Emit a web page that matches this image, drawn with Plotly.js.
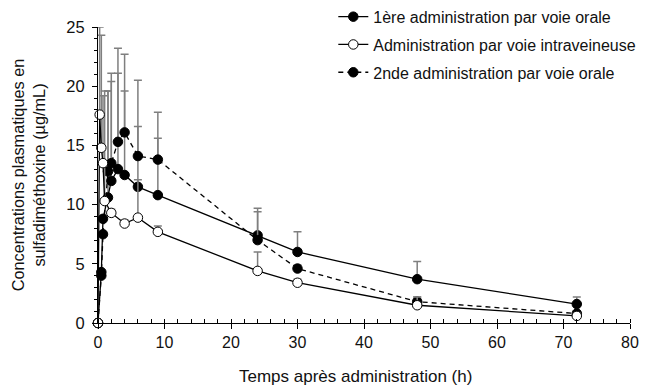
<!DOCTYPE html>
<html>
<head>
<meta charset="utf-8">
<script src="https://cdn.plot.ly/plotly-3.0.1.min.js"></script>
<style>html,body{margin:0;padding:0;background:#fff;}#chart{width:646px;height:385px;}</style>
</head>
<body>
<div id="chart"></div>
<script>
// 1ère administration par voie orale
const tOral1 = [0, 0.5, 0.75, 1.5, 2, 3, 4, 6, 9, 24, 30, 48, 72];
const cOral1 = [0, 4.3, 8.8, 10.6, 12.0, 13.0, 12.5, 11.5, 10.8, 7.4, 6.0, 3.7, 1.6];
const sdOral1 = [0, 0, 0, 9.0, 8.4, 8.1, 7.1, 5.1, 4.8, 2.3, 1.7, 1.5, 0.6];

// Administration par voie intraveineuse
const tIV = [0, 0.25, 0.5, 0.75, 1, 2, 4, 6, 9, 24, 30, 48, 72];
const cIV = [0, 17.6, 14.8, 13.5, 10.3, 9.3, 8.4, 8.9, 7.7, 4.4, 3.4, 1.5, 0.6];
const sdIV = [0, 7.4, 9.5, 5.7, 9.3, 0.3, 0.3, 3.2, 0.5, 1.6, 0.3, 0.7, 0.2];

// 2nde administration par voie orale
const tOral2 = [0, 0.5, 0.75, 1.5, 2, 3, 4, 6, 9, 24, 30, 48, 72];
const cOral2 = [0, 4.0, 7.5, 12.8, 13.5, 15.3, 16.1, 14.1, 13.8, 7.0, 4.6, 1.8, 0.8];
const sdOral2 = [0, 0, 0, 6.8, 7.6, 7.9, 6.6, 6.4, 4.0, 2.4, 0.3, 0.4, 0.2];

const names = ["1ère administration par voie orale", "Administration par voie intraveineuse", "2nde administration par voie orale"];
const xTitle = "Temps après administration (h)";
const yTitle = "Concentrations plasmatiques en<br>sulfadiméthoxine (µg/mL)";

const errStyle = (arr) => ({type: 'data', array: arr, symmetric: false, arrayminus: arr.map(() => 0), color: '#7f7f7f', thickness: 1.5, width: 4});

const traces = [
  {x: tOral1, y: cOral1, name: names[0], mode: 'lines+markers', legendgroup: 'a', legendrank: 1,
   line: {color: '#000', width: 1.3}, marker: {color: '#000', size: 9.5, line: {color: '#000', width: 1}},
   error_y: errStyle(sdOral1), cliponaxis: false},
  {x: tOral2, y: cOral2, name: names[2], mode: 'lines+markers', legendgroup: 'c', legendrank: 3,
   line: {color: '#000', width: 1.3, dash: '5px,4px'}, marker: {color: '#000', size: 9.5, line: {color: '#000', width: 1}},
   error_y: errStyle(sdOral2), cliponaxis: false},
  {x: tIV, y: cIV, name: names[1], mode: 'lines+markers', legendgroup: 'b', legendrank: 2,
   line: {color: '#000', width: 1.3}, marker: {color: '#fff', size: 9.5, line: {color: '#000', width: 1}},
   error_y: errStyle(sdIV), cliponaxis: false}
];

const layout = {
  width: 646, height: 385,
  margin: {l: 97.5, r: 16, t: 27, b: 62, pad: 0, autoexpand: false},
  paper_bgcolor: '#fff', plot_bgcolor: '#fff',
  font: {family: 'Liberation Sans, Arial, sans-serif', size: 15, color: '#111'},
  showlegend: true,
  legend: {x: 0.4423, xanchor: 'left', y: 1.092, yanchor: 'top', bgcolor: 'rgba(0,0,0,0)',
           traceorder: 'grouped', tracegroupgap: 4, font: {size: 16, color: '#111'}},
  xaxis: {range: [0, 80], dtick: 10, tick0: 0, showgrid: false, zeroline: false,
          showline: true, linecolor: '#000', linewidth: 1,
          ticks: 'outside', ticklen: 5, tickcolor: '#000',
          minor: {dtick: 2, ticks: 'inside', ticklen: 4, tickcolor: '#000', showgrid: false},
          tickfont: {size: 16}},
  yaxis: {range: [0, 25], dtick: 5, tick0: 0, showgrid: false, zeroline: false,
          showline: true, linecolor: '#000', linewidth: 1,
          ticks: 'outside', ticklen: 5, tickcolor: '#000', ticklabelstandoff: 4,
          minor: {dtick: 1, ticks: 'outside', ticklen: 3, tickcolor: '#000', showgrid: false},
          title: {text: yTitle, font: {size: 16.3}, standoff: 16},
          tickfont: {size: 16.5}},
  annotations: [
    {text: xTitle, xref: 'paper', yref: 'paper', x: 0.4845, y: -0.1824, xanchor: 'center', yanchor: 'middle',
     showarrow: false, font: {size: 17, color: '#111'}}
  ]
};

Plotly.newPlot('chart', traces, layout, {displayModeBar: false, staticPlot: true});
</script>
</body>
</html>
